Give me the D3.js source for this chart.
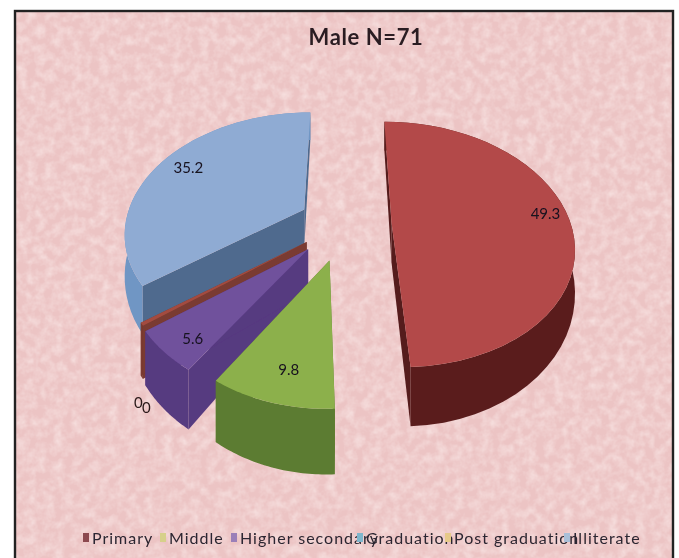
<!DOCTYPE html>
<html><head><meta charset="utf-8">
<script src="https://cdn.jsdelivr.net/npm/d3@7"></script>
<style>html,body{margin:0;padding:0;background:#fff}svg{display:block}text{font-family:Lato,"Open Sans",sans-serif}</style>
</head><body><div id="c"></div>
<script>
const title = "Male N=71";
const categories = ["Primary","Middle","Higher secondary","Graduation","Post graduation","Illiterate"];
const values = [49.3,9.8,5.6,0,0,35.2];
const valueLabels = ["49.3","9.8","5.6","0","0","35.2"];
const topColors = ["#b34a48","#8cb04c","#70519c","#4aacc5","#a34c40","#8fabd3"];
const wallColors = ["#551b1c","#5c7c30","#573a80","#2f7f93","#7a3a30","#4f6a8e"];
const outerColors = ["#5a1e1e","#5c7c30","#573a80","#2f7f93","#7a3a30","#6f96c4"];
const legendColors = ["#8c4a50","#d6d08a","#9a7fb8","#7fb6cc","#e6c98a","#a9bfd8"];
const legendX = [92,169,240,366,454,573];
// slice layout: explosion, radius factor, label radius and label angle (degrees)
const explodes = [0.26,0.31,0.29,0.26,0.26,0.26];
const radii = [1,0.92,0.95,1,0.97,1];
const labelR = [0.88,0.73,0.81,null,null,0.82];
const labelDeg = [85,193.9,220.5,null,null,298.3];

const W=679,H=558, cx=345, cy=223, rx=179, ry=119, persp=0.18, depth=40;
const svg=d3.select("#c").append("svg").attr("width",W).attr("height",H);
const defs=svg.append("defs");
const tex=defs.append("filter").attr("id","tex").attr("x",0).attr("y",0).attr("width","100%").attr("height","100%");
tex.append("feTurbulence").attr("type","fractalNoise").attr("baseFrequency",0.11).attr("numOctaves",3).attr("seed",4);
tex.append("feColorMatrix").attr("values","0 0 0 0 0.97  0 0 0 0 0.85  0 0 0 0 0.84  1.1 0 0 0 -0.38");
defs.append("filter").attr("id","soft").append("feGaussianBlur").attr("stdDeviation",0.6);
defs.append("filter").attr("id","softer").append("feGaussianBlur").attr("stdDeviation",0.5);

const frame={x:15,y:11,w:658,h:560};
svg.append("rect").attr("x",frame.x).attr("y",frame.y).attr("width",frame.w).attr("height",frame.h).attr("fill","#ecc4c4");
svg.append("rect").attr("x",frame.x).attr("y",frame.y).attr("width",frame.w).attr("height",frame.h).attr("filter","url(#tex)");
svg.append("rect").attr("x",frame.x).attr("y",frame.y).attr("width",frame.w).attr("height",frame.h).attr("fill","none").attr("stroke","#222").attr("stroke-width",2.4);

const sx=d3.scaleLinear().domain([-1,1]).range([-rx,rx]);
const sy=d3.scaleLinear().domain([-1,1]).range([-ry,ry]);
function proj(u,v,z){const k=1/(1-persp*v);return [cx+sx(u)*k, cy+sy(v)*k+z*depth*k*k];}
const arcs=d3.pie().sort(null).value(d=>d)(values);
const line=d3.line();
const chart=svg.append("g").attr("filter","url(#softer)");
function sliceGeom(a,i){
  const mid=(a.startAngle+a.endAngle)/2, e=explodes[i], r=radii[i];
  const ex=e*Math.sin(mid), ey=-e*Math.cos(mid);
  // a zero slice still shows as a hairline sector, as in the source chart
  const minSweep=values[i]===0?0.012:0;
  const t0=a.startAngle-minSweep, t1=a.endAngle+minSweep;
  const ang=d3.range(0,41).map(k=>d3.interpolateNumber(t0,t1)(k/40));
  const pt=(t,z,rr=r)=>proj(ex+rr*Math.sin(t),ey-rr*Math.cos(t),z);
  return {ang,pt,apex:z=>proj(ex,ey,z),t0,t1,mid};
}
const nearness=i=>-Math.cos((arcs[i].startAngle+arcs[i].endAngle)/2);
const order=arcs.map((a,i)=>i).filter(i=>i!==3).sort((p,q)=>nearness(p)-nearness(q));
order.forEach(i=>{
  const g=sliceGeom(arcs[i],i),s=chart.append("g");
  s.append("path").attr("d",line([g.apex(0),g.pt(g.t0,0),g.pt(g.t0,1),g.apex(1)])+"Z").attr("fill",wallColors[i]);
  s.append("path").attr("d",line([g.apex(0),g.pt(g.t1,0),g.pt(g.t1,1),g.apex(1)])+"Z").attr("fill",wallColors[i]);
  const top=g.ang.map(t=>g.pt(t,0)), bot=g.ang.map(t=>g.pt(t,1)).reverse();
  s.append("path").attr("d",line(top.concat(bot))+"Z").attr("fill",outerColors[i]);
  s.append("path").attr("d",line([g.apex(0)].concat(top))+"Z").attr("fill",topColors[i]);
});
arcs.forEach((a,i)=>{
  if(labelR[i]===null)return;
  const g=sliceGeom(a,i);
  const p=g.pt(labelDeg[i]*Math.PI/180,0,labelR[i]);
  svg.append("text").attr("x",p[0]).attr("y",p[1]).attr("text-anchor","middle").attr("dy","0.35em")
    .attr("font-size",15).attr("fill","#17121f").attr("filter","url(#soft)").text(valueLabels[i]);
});
svg.append("text").attr("x",134).attr("y",408).attr("font-size",15).attr("fill","#2a1a1a").attr("filter","url(#softer)").text(valueLabels[3]);
svg.append("text").attr("x",142).attr("y",413).attr("font-size",15).attr("fill","#2a1a1a").attr("filter","url(#softer)").text(valueLabels[4]);
svg.append("text").attr("x",366).attr("y",45).attr("text-anchor","middle").attr("font-size",22).attr("font-weight",700).attr("letter-spacing",0.6).attr("fill","#2a1e23").attr("filter","url(#softer)").text(title);
const lg=svg.append("g").attr("filter","url(#soft)");
categories.forEach((c,i)=>{
  lg.append("rect").attr("x",legendX[i]-9).attr("y",533).attr("width",6).attr("height",9).attr("fill",legendColors[i]);
  lg.append("text").attr("x",legendX[i]).attr("y",544).attr("font-size",16).attr("letter-spacing",1).attr("fill","#2c2530").text(c);
});
</script></body></html>
